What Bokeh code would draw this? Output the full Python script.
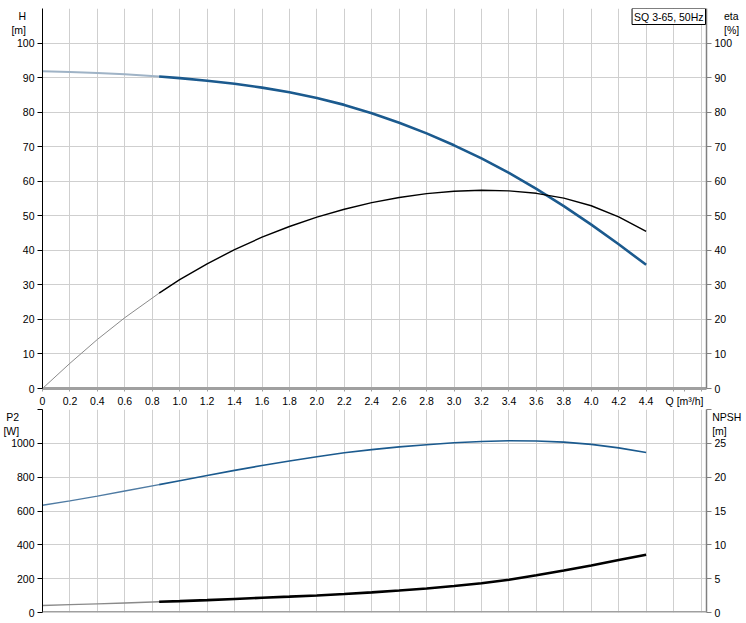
from bokeh.plotting import figure
from bokeh.models import Range1d, LinearAxis, FixedTicker, Label, Span, Grid
from bokeh.layouts import column
from bokeh.embed import file_html
from bokeh.resources import INLINE

# ---- data ----
Q = [0, 0.2, 0.4, 0.6, 0.85, 1.0, 1.2, 1.4, 1.6, 1.8, 2.0, 2.2, 2.4, 2.6,
     2.8, 3.0, 3.2, 3.4, 3.6, 3.8, 4.0, 4.2, 4.4]
H = [91.8, 91.65, 91.35, 90.95, 90.3, 89.85, 89.1, 88.2, 87.1, 85.75, 84.1,
     82.1, 79.7, 76.95, 73.85, 70.4, 66.6, 62.4, 57.8, 52.8, 47.45, 41.75, 35.8]
ETA = [0, 7.3, 14.2, 20.5, 27.6, 31.5, 36.1, 40.2, 43.8, 46.9, 49.6, 51.9,
       53.8, 55.3, 56.4, 57.1, 57.4, 57.2, 56.5, 55.1, 52.9, 49.7, 45.5]
P2 = [634, 660, 688, 718, 756, 779, 810, 840, 869, 896, 921, 944, 963, 979,
      992, 1003, 1011, 1015, 1014, 1007, 994, 973, 946]
NPSH = [1.04, 1.16, 1.28, 1.41, 1.58, 1.68, 1.83, 2.0, 2.18, 2.34, 2.52, 2.73,
        2.97, 3.24, 3.55, 3.91, 4.32, 4.85, 5.5, 6.22, 6.96, 7.75, 8.54]
SPLIT = 4  # index where the duty range (thick curve) begins

X_TICKS = [0, 0.2, 0.4, 0.6, 0.8, 1.0, 1.2, 1.4, 1.6, 1.8, 2.0, 2.2, 2.4, 2.6,
           2.8, 3.0, 3.2, 3.4, 3.6, 3.8, 4.0, 4.2, 4.4, 4.6, 4.8]
X_LABELS = ["0", "0.2", "0.4", "0.6", "0.8", "1.0", "1.2", "1.4", "1.6", "1.8",
            "2.0", "2.2", "2.4", "2.6", "2.8", "3.0", "3.2", "3.4", "3.6", "3.8",
            "4.0", "4.2", "4.4", "", ""]
Q_LABEL = "Q [m³/h]"
Q_LABEL_AT = 4.68  # axis caption sits in the tick-label row after the last value
H_TICKS = [0, 10, 20, 30, 40, 50, 60, 70, 80, 90, 100]
ETA_TICKS = [0, 10, 20, 30, 40, 50, 60, 70, 80, 90, 100]
P2_TICKS = [0, 200, 400, 600, 800, 1000, 1200]
P2_LABELS = ["0", "200", "400", "600", "800", "1000", ""]
NPSH_TICKS = [0, 5, 10, 15, 20, 25, 30]
NPSH_LABELS = ["0", "5", "10", "15", "20", "25", ""]
TITLE = "SQ 3-65, 50Hz"
H_LABEL = ["H", "[m]"]
ETA_LABEL = ["eta", "[%]"]
P2_LABEL = ["P2", "[W]"]
NPSH_LABEL = ["NPSH", "[m]"]

FONT = "Liberation Sans"
FS = "10.5px"
GRID = "#cfcfcf"
BLUE = "#1b5a8e"
XMAX = 4.84
FRAME_W = 664
PAD = "\u00a0"  # blank lines push the two-line unit caption below the axis end


def style_axis(ax, line_color, line_width, tick_out, standoff):
    ax.axis_line_color = line_color
    ax.axis_line_width = line_width
    ax.major_tick_line_color = line_color
    ax.major_tick_out = tick_out
    ax.major_tick_in = 0
    ax.minor_tick_line_color = None
    ax.major_label_text_font = FONT
    ax.major_label_text_font_size = FS
    ax.major_label_text_color = "#000000"
    ax.major_label_standoff = standoff


def axis_title(ax, lines, standoff, pad_lines=2):
    ax.axis_label = "\n".join([PAD] * pad_lines + list(lines))
    ax.axis_label_text_font = FONT
    ax.axis_label_text_font_size = FS
    ax.axis_label_text_font_style = "normal"
    ax.axis_label_text_color = "#000000"
    ax.axis_label_orientation = "horizontal"
    ax.axis_label_align = "end"
    ax.axis_label_standoff = standoff


# ---------------- top chart: H and eta ----------------
p1 = figure(frame_width=FRAME_W, frame_height=380, x_range=Range1d(0, XMAX),
            y_range=Range1d(0, 110), output_backend="svg",
            toolbar_location=None, min_border_left=42, min_border_right=0,
            min_border_top=8, min_border_bottom=19)
p1.outline_line_color = None
p1.extra_y_ranges = {"eta": Range1d(0, 110)}
p1.add_layout(LinearAxis(y_range_name="eta"), "right")

x_axis_ticks = X_TICKS + [Q_LABEL_AT]
x_axis_labels = dict(zip(X_TICKS, X_LABELS))
x_axis_labels[Q_LABEL_AT] = Q_LABEL
p1.xaxis.ticker = FixedTicker(ticks=x_axis_ticks)
p1.xaxis.major_label_overrides = x_axis_labels
p1.xgrid.ticker = FixedTicker(ticks=X_TICKS)
p1.yaxis[0].ticker = FixedTicker(ticks=H_TICKS)
p1.yaxis[1].ticker = FixedTicker(ticks=ETA_TICKS)
style_axis(p1.xaxis[0], "#a0a0a0", 3, 3, 3)
style_axis(p1.yaxis[0], "#000000", 1, 5, 3)
style_axis(p1.yaxis[1], "#808080", 1.5, 5, 3)
axis_title(p1.yaxis[0], H_LABEL, -12)
axis_title(p1.yaxis[1], ETA_LABEL, -11)
p1.xgrid.grid_line_color = GRID
p1.ygrid.grid_line_color = GRID

p1.line(Q[:SPLIT + 1], H[:SPLIT + 1], line_color="#9fb3c6", line_width=2)
p1.line(Q[SPLIT:], H[SPLIT:], line_color=BLUE, line_width=2.6)
p1.line(Q[:SPLIT + 1], ETA[:SPLIT + 1], line_color="#8a8a8a", line_width=1,
        y_range_name="eta")
p1.line(Q[SPLIT:], ETA[SPLIT:], line_color="#000000", line_width=1.4,
        y_range_name="eta")

p1.add_layout(Label(x=XMAX, y=110, text=TITLE, text_font=FONT,
                    text_font_size=FS, text_color="#000000",
                    text_align="right", text_baseline="top",
                    border_line_color="#000000", border_line_width=1,
                    background_fill_color="#ffffff", padding=2,
                    x_offset=-1))

# ---------------- bottom chart: P2 and NPSH ----------------
p2 = figure(frame_width=FRAME_W, frame_height=203, x_range=p1.x_range,
            y_range=Range1d(0, 1200), output_backend="svg",
            toolbar_location=None, min_border_left=42, min_border_right=0,
            min_border_top=0, min_border_bottom=11, x_axis_location=None)
p2.outline_line_color = None
p2.extra_y_ranges = {"npsh": Range1d(0, 30)}
p2.add_layout(LinearAxis(y_range_name="npsh"), "right")

p2.yaxis[0].ticker = FixedTicker(ticks=P2_TICKS)
p2.yaxis[0].major_label_overrides = dict(zip(P2_TICKS, P2_LABELS))
p2.yaxis[1].ticker = FixedTicker(ticks=NPSH_TICKS)
p2.yaxis[1].major_label_overrides = dict(zip(NPSH_TICKS, NPSH_LABELS))
style_axis(p2.yaxis[0], "#000000", 1, 5, 3)
style_axis(p2.yaxis[1], "#808080", 1.5, 5, 3)
axis_title(p2.yaxis[0], P2_LABEL, -11)
axis_title(p2.yaxis[1], NPSH_LABEL, -17)
for g in list(p2.xgrid):
    g.visible = False
p2.add_layout(Grid(dimension=0, ticker=FixedTicker(ticks=X_TICKS),
                   grid_line_color=GRID))
p2.ygrid.grid_line_color = GRID
p2.add_layout(Span(location=0, dimension="width", line_color="#a0a0a0",
                   line_width=3))

p2.line(Q[:SPLIT + 1], P2[:SPLIT + 1], line_color="#4f7ba3", line_width=1.4)
p2.line(Q[SPLIT:], P2[SPLIT:], line_color=BLUE, line_width=1.6)
p2.line(Q[:SPLIT + 1], NPSH[:SPLIT + 1], line_color="#8a8a8a", line_width=1.4,
        y_range_name="npsh")
p2.line(Q[SPLIT:], NPSH[SPLIT:], line_color="#000000", line_width=2.6,
        y_range_name="npsh")

layout = column(p1, p2)
open("out.html", "w").write(file_html(layout, INLINE))
